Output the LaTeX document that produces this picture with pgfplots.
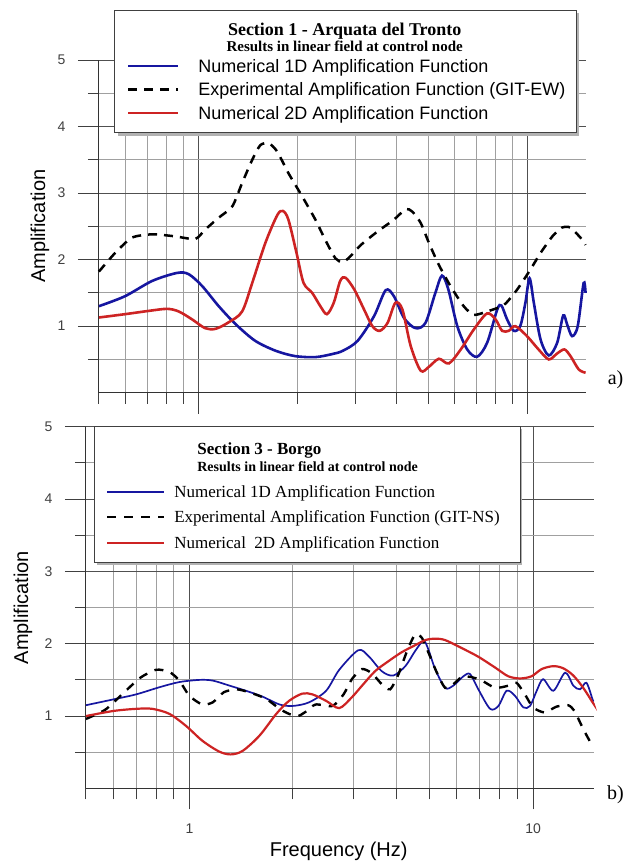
\documentclass[border=0pt]{standalone}
\usepackage{fontspec}
\setmainfont{Liberation Serif}
\setsansfont{Liberation Sans}
\usepackage{pgfplots}
\pgfplotsset{compat=1.18}
\definecolor{cblue}{RGB}{22,22,160}
\definecolor{cred}{RGB}{205,35,35}
\definecolor{majgrid}{RGB}{80,80,80}
\definecolor{mingrid}{RGB}{160,160,160}
\pgfplotsset{
  myaxis/.style={
    scale only axis, xmin=0.5, xmax=15, ymin=0, ymax=5,
    axis x line=bottom, axis y line=left,
    axis line style={-, draw=black!80, line width=1pt},
    xtick={1,10},
    minor xtick={0.5,0.6,0.7,0.8,0.9,2,3,4,5,6,7,8,9},
    ytick={1,2,3,4,5}, minor ytick={0.5,1.5,2.5,3.5,4.5},
    tick align=outside, major tick length=21pt, minor tick length=11pt,
    every tick/.style={black!75, line width=0.9pt},
    grid=both,
    major grid style={majgrid, line width=0.9pt},
    minor grid style={mingrid, line width=0.9pt},
    /pgf/number format/assume math mode=true,
    ticklabel style={font=\sffamily\fontsize{14}{14}\selectfont, text=black!75},
    yticklabel style={xshift=-9pt},
    xticklabel style={yshift=-11pt},
    label style={font=\sffamily\fontsize{20}{20}\selectfont},
    clip=false,
    legend cell align=left,
  }
}
\begin{document}
\begin{tikzpicture}[x=1pt,y=1pt]
\path (0,0) rectangle (631,864);
% ---------------- panel a ----------------
\begin{semilogxaxis}[myaxis,
  at={(99pt,471pt)}, anchor=south west,
  width=487pt, height=333pt,
  xticklabels={},
  ylabel={Amplification},
  ylabel style={at={(axis description cs:-0.121,0.5)}, anchor=center},
  legend style={at={(axis description cs:0.0575,1.0015)}, anchor=north west,
    draw=none, fill=none, inner sep=0pt, outer sep=0pt,
    row sep=10.5pt, column sep=19pt,
    nodes={inner sep=0pt, text height=13pt, text depth=0pt,
      font=\sffamily\fontsize{18}{18}\selectfont}},
  legend image code/.code={\draw[#1] (0pt,0pt) -- (50pt,0pt);},
]
\fill[black!30] (axis description cs:0.0389,0.772) rectangle (axis description cs:0.9875,1.141);
\draw[black!75, line width=0.9pt, fill=white] (axis description cs:0.0329,0.781) rectangle (axis description cs:0.9815,1.150);
\node[anchor=base, font=\bfseries\fontsize{18}{18}\selectfont] at (axis description cs:0.505,1.072) {Section 1 - Arquata del Tronto};
\node[anchor=base, font=\bfseries\fontsize{15}{15}\selectfont] at (axis description cs:0.505,1.026) {Results in linear field at control node};
\addplot[cblue, line width=2.6pt, smooth, tension=0.5] coordinates {
(0.5,1.3) (0.6,1.45) (0.726,1.68) (0.864,1.8) (0.937,1.78) (1.03,1.6) (1.155,1.3) (1.3,1.03) (1.49,0.78) (1.72,0.63) (1.97,0.55) (2.27,0.535) (2.55,0.58) (2.75,0.63) (3.05,0.78) (3.42,1.15) (3.71,1.54) (3.93,1.45) (4.22,1.12) (4.57,0.97) (4.9,1.05) (5.25,1.5) (5.5,1.76) (5.75,1.55) (6.12,1.0) (6.56,0.65) (7.03,0.54) (7.54,0.75) (8.09,1.25) (8.33,1.31) (8.67,1.1) (9.08,0.93) (9.5,1.0) (9.85,1.35) (10.14,1.72) (10.45,1.35) (10.95,0.8) (11.6,0.56) (12.3,0.75) (12.83,1.16) (13.2,1.02) (13.65,0.85) (14.2,1.0) (14.8,1.65) (15,1.5)};
\addlegendentry{Numerical 1D Amplification Function}
\addplot[black, line width=2.5pt, dash pattern=on 9pt off 7pt, smooth, tension=0.4] coordinates {
(0.5,1.82) (0.56,2.1) (0.63,2.33) (0.726,2.38) (0.85,2.35) (0.98,2.31) (1.05,2.45) (1.155,2.63) (1.27,2.8) (1.36,3.15) (1.46,3.5) (1.545,3.72) (1.64,3.75) (1.74,3.62) (1.88,3.3) (2.07,2.95) (2.27,2.6) (2.43,2.3) (2.61,2.02) (2.75,1.96) (2.9,2.05) (3.12,2.22) (3.5,2.42) (3.93,2.6) (4.27,2.76) (4.47,2.72) (4.74,2.55) (5.02,2.25) (5.38,1.92) (5.84,1.6) (6.4,1.3) (6.87,1.17) (7.53,1.22) (8.48,1.32) (9.3,1.55) (10.2,1.85) (10.95,2.1) (11.9,2.35) (12.7,2.48) (13.5,2.48) (14.65,2.3) (15,2.22)};
\addlegendentry{Experimental Amplification Function (GIT-EW)}
\addplot[cred, line width=2.6pt, smooth, tension=0.5] coordinates {
(0.5,1.13) (0.6,1.18) (0.71,1.23) (0.806,1.26) (0.874,1.22) (0.96,1.1) (1.05,0.97) (1.13,0.96) (1.24,1.06) (1.36,1.22) (1.46,1.65) (1.6,2.25) (1.74,2.67) (1.81,2.73) (1.88,2.6) (1.99,2.1) (2.09,1.65) (2.22,1.5) (2.35,1.3) (2.46,1.18) (2.58,1.35) (2.7,1.68) (2.8,1.73) (2.98,1.55) (3.19,1.25) (3.38,1.0) (3.56,0.93) (3.76,1.05) (3.97,1.35) (4.17,1.25) (4.42,0.7) (4.74,0.33) (5.02,0.39) (5.38,0.51) (5.77,0.44) (6.27,0.65) (6.87,0.95) (7.53,1.19) (8.0,1.1) (8.37,0.93) (8.77,0.93) (9.18,1.0) (9.96,0.85) (10.8,0.65) (11.6,0.5) (12.3,0.59) (12.94,0.65) (13.5,0.55) (14.3,0.35) (15,0.3)};
\addlegendentry{Numerical 2D Amplification Function}
\end{semilogxaxis}
\node[font=\fontsize{20}{20}\selectfont] at (616,484) {a)};
% ---------------- panel b ----------------
\begin{semilogxaxis}[myaxis,
  at={(86pt,75pt)}, anchor=south west,
  width=508pt, height=362pt,
  xticklabels={1,10},
  xlabel={Frequency (Hz)},
  xlabel style={at={(axis description cs:0.498,-0.174)}, anchor=center},
  ylabel={Amplification},
  ylabel style={at={(axis description cs:-0.124,0.5)}, anchor=center},
  legend style={at={(axis description cs:0.0394,0.836)}, anchor=north west,
    draw=none, fill=none, inner sep=0pt, outer sep=0pt,
    row sep=14.2pt, column sep=9pt,
    nodes={inner sep=0pt, text height=11.3pt, text depth=0pt,
      font=\fontsize{17}{17}\selectfont}},
  legend image code/.code={\draw[#1] (0pt,0pt) -- (57pt,0pt);},
]
\fill[black!30] (axis description cs:0.0217,0.618) rectangle (axis description cs:0.860,0.994);
\draw[black!75, line width=0.9pt, fill=white] (axis description cs:0.0177,0.624) rectangle (axis description cs:0.856,1.0);
\node[anchor=base west, font=\bfseries\fontsize{17}{17}\selectfont] at (axis description cs:0.2126,0.9227) {Section 3 - Borgo};
\node[anchor=base west, font=\bfseries\fontsize{14}{14}\selectfont] at (axis description cs:0.2126,0.8757) {Results in linear field at control node};
\addplot[cblue, line width=1.7pt, smooth, tension=0.5] coordinates {
(0.5,1.15) (0.6,1.23) (0.7,1.3) (0.82,1.4) (0.935,1.47) (1.07,1.5) (1.17,1.49) (1.31,1.42) (1.46,1.35) (1.63,1.27) (1.83,1.16) (2.0,1.14) (2.23,1.19) (2.5,1.35) (2.73,1.64) (3.1,1.91) (3.32,1.83) (3.63,1.62) (3.92,1.56) (4.25,1.69) (4.54,1.9) (4.8,2.04) (4.96,1.92) (5.19,1.65) (5.55,1.39) (5.86,1.42) (6.27,1.55) (6.56,1.58) (6.93,1.37) (7.5,1.1) (7.93,1.14) (8.38,1.35) (8.86,1.28) (9.37,1.12) (9.8,1.14) (10.25,1.35) (10.7,1.51) (11.46,1.35) (12.4,1.6) (13.1,1.42) (13.7,1.37) (14.3,1.46) (14.9,1.23) (15,1.2)};
\addlegendentry{Numerical 1D Amplification Function}
\addplot[black, line width=2.4pt, dash pattern=on 9pt off 8pt, smooth, tension=0.4] coordinates {
(0.5,0.96) (0.57,1.09) (0.64,1.31) (0.72,1.53) (0.8,1.64) (0.875,1.61) (0.935,1.49) (1.0,1.28) (1.09,1.16) (1.17,1.19) (1.26,1.33) (1.37,1.37) (1.49,1.33) (1.67,1.24) (1.83,1.1) (1.95,1.03) (2.07,1.0) (2.18,1.06) (2.33,1.16) (2.61,1.14) (2.81,1.3) (2.97,1.51) (3.18,1.65) (3.4,1.59) (3.63,1.44) (3.84,1.37) (4.06,1.58) (4.3,1.9) (4.54,2.13) (4.75,2.08) (4.96,1.88) (5.25,1.6) (5.55,1.39) (5.86,1.44) (6.2,1.54) (6.6,1.54) (7.1,1.49) (7.76,1.39) (8.47,1.42) (8.95,1.46) (9.47,1.3) (10.0,1.12) (10.8,1.05) (11.7,1.13) (12.65,1.15) (13.2,1.07) (14.0,0.82) (14.8,0.61) (15,0.58)};
\addlegendentry{Experimental Amplification Function (GIT-NS)}
\addplot[cred, line width=2.2pt, smooth, tension=0.5] coordinates {
(0.5,1.0) (0.6,1.07) (0.7,1.1) (0.78,1.1) (0.875,1.03) (0.98,0.86) (1.09,0.66) (1.22,0.51) (1.32,0.47) (1.43,0.52) (1.6,0.73) (1.79,1.03) (1.95,1.21) (2.13,1.31) (2.28,1.3) (2.5,1.21) (2.73,1.11) (2.97,1.26) (3.18,1.42) (3.47,1.62) (3.8,1.76) (4.14,1.88) (4.54,1.98) (4.86,2.05) (5.19,2.07) (5.55,2.05) (6.2,1.94) (6.93,1.82) (7.76,1.67) (8.47,1.55) (9.17,1.52) (9.9,1.55) (10.6,1.65) (11.46,1.69) (12.25,1.66) (13.1,1.56) (14.0,1.39) (14.9,1.19) (15,1.17)};
\addlegendentry{Numerical\ \ 2D Amplification Function}
\end{semilogxaxis}
\node[font=\fontsize{20}{20}\selectfont] at (616,69) {b)};
\end{tikzpicture}
\end{document}
